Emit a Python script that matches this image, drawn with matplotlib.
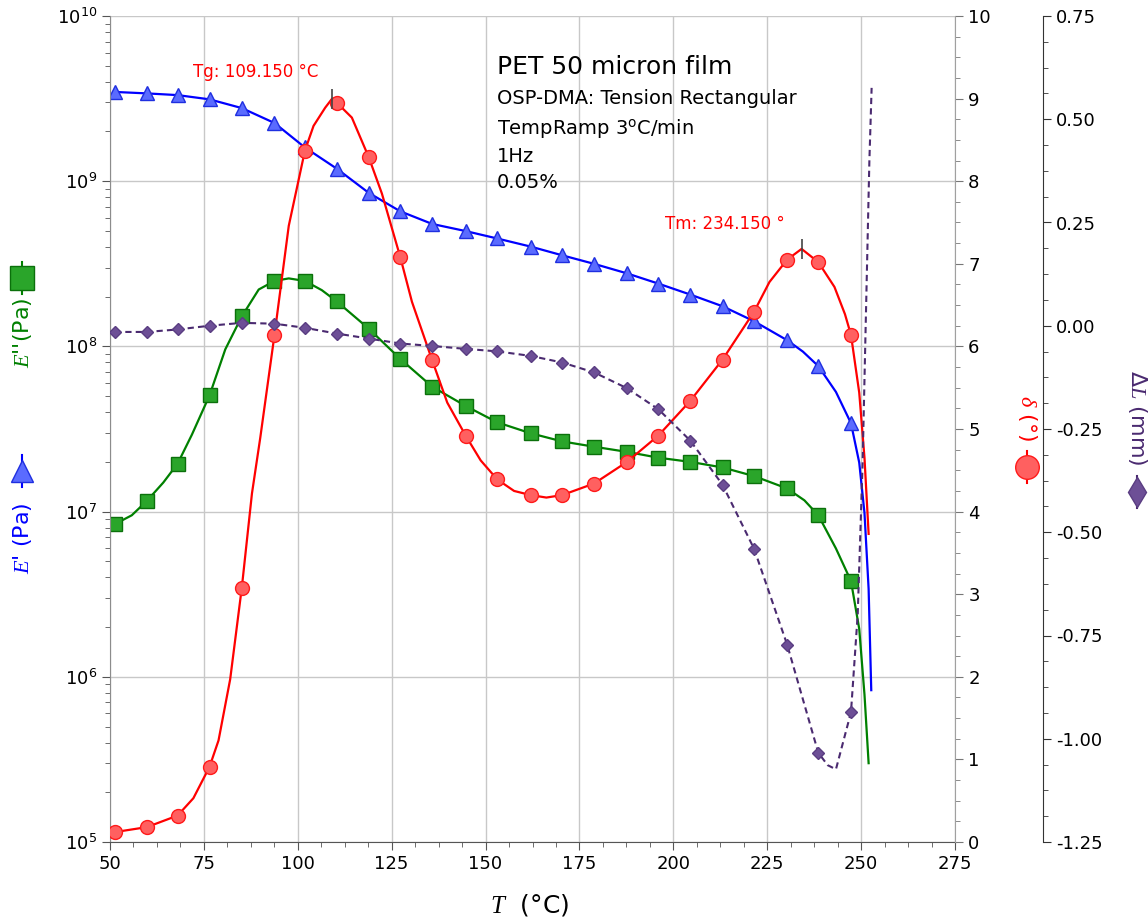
import numpy as np
import matplotlib.pyplot as plt
from matplotlib.ticker import MultipleLocator, LogLocator, FuncFormatter, FormatStrFormatter, NullFormatter
from matplotlib.lines import Line2D

plt.rcParams['font.family'] = 'DejaVu Sans'
plt.rcParams['mathtext.fontset'] = 'custom'
plt.rcParams['mathtext.it'] = 'Liberation Serif:italic'
plt.rcParams['mathtext.rm'] = 'DejaVu Sans'
plt.rcParams['axes.unicode_minus'] = False

# temperatures where markers sit
T_mk = [51.3, 59.8, 68.0, 76.5, 85.1, 93.8, 101.9, 110.4, 118.9, 127.3, 135.8, 144.7,
        153.1, 162.0, 170.4, 178.9, 187.6, 196.0, 204.5, 213.1, 221.5, 230.3, 238.6, 247.3]

# E' (Pa)
T_e1 = [51.3, 59.8, 68.0, 76.5, 85.1, 93.8, 101.9, 110.4, 118.9, 127.3, 135.8, 144.7,
        153.1, 162.0, 170.4, 178.9, 187.6, 196.0, 204.5, 213.1, 221.5, 230.3, 234.5,
        238.6, 243.3, 247.3, 249.5, 250.9, 252.0, 252.7]
E1 = [3.47e9, 3.40e9, 3.32e9, 3.13e9, 2.77e9, 2.25e9, 1.60e9, 1.19e9, 8.5e8, 6.57e8, 5.51e8, 4.99e8,
      4.50e8, 4.02e8, 3.56e8, 3.16e8, 2.77e8, 2.40e8, 2.06e8, 1.75e8, 1.42e8, 1.09e8, 9.3e7,
      7.6e7, 5.3e7, 3.43e7, 1.98e7, 9.8e6, 3.4e6, 8.3e5]

# E'' (Pa)
T_e2 = [51.3, 55.8, 59.8, 64.2, 68.0, 71.8, 76.5, 80.7, 85.1, 89.6, 93.8, 97.6, 101.9, 106.4,
        110.4, 118.9, 127.3, 135.8, 144.7, 153.1, 162.0, 170.4, 178.9, 187.6, 196.0, 204.5,
        213.1, 221.5, 230.3, 234.9, 238.6, 243.3, 247.3, 249.5, 250.9, 252.0]
E2 = [8.4e6, 9.5e6, 1.16e7, 1.50e7, 1.95e7, 2.92e7, 5.05e7, 9.6e7, 1.52e8, 2.21e8, 2.49e8, 2.58e8,
      2.49e8, 2.19e8, 1.87e8, 1.28e8, 8.4e7, 5.7e7, 4.36e7, 3.47e7, 2.98e7, 2.66e7, 2.47e7,
      2.30e7, 2.12e7, 2.00e7, 1.85e7, 1.64e7, 1.38e7, 1.17e7, 9.5e6, 5.98e6, 3.8e6, 1.95e6,
      7.8e5, 3.0e5]

# delta (deg)
T_d = [51.3, 59.8, 68.0, 72.2, 76.5, 78.9, 82.0, 85.1, 87.8, 90.0, 93.8, 97.6, 101.9, 104.2,
       107.3, 109.15, 110.4, 114.4, 118.9, 122.4, 127.3, 130.4, 135.8, 139.8, 144.7, 148.7,
       153.1, 157.6, 162.0, 166.2, 170.4, 178.9, 187.6, 196.0, 204.5, 213.1, 221.5, 225.6,
       230.3, 234.15, 238.6, 242.9, 245.7, 247.3, 249.5, 250.9, 252.0]
delta = [0.12, 0.18, 0.32, 0.53, 0.91, 1.23, 1.97, 3.08, 4.22, 4.89, 6.14, 7.46, 8.37, 8.67,
         8.89, 9.00, 8.95, 8.77, 8.29, 7.85, 7.08, 6.54, 5.83, 5.32, 4.92, 4.62,
         4.39, 4.25, 4.20, 4.17, 4.20, 4.34, 4.60, 4.92, 5.34, 5.84, 6.42, 6.78,
         7.05, 7.18, 7.02, 6.72, 6.39, 6.14, 5.44, 4.65, 3.73]

# Delta L (mm)
T_dl = [51.3, 59.8, 68.0, 76.5, 85.1, 93.8, 101.9, 110.4, 118.9, 127.3, 135.8, 144.7,
        153.1, 162.0, 170.4, 178.9, 187.6, 196.0, 204.5, 213.1, 221.5, 230.3, 238.6, 241.1,
        243.3, 247.3, 249.1, 250.4, 251.3, 252.2, 252.8]
dL = [-0.015, -0.015, -0.009, 0.000, 0.007, 0.005, -0.005, -0.019, -0.031, -0.043, -0.049, -0.056,
      -0.062, -0.073, -0.089, -0.113, -0.151, -0.202, -0.278, -0.385, -0.540, -0.772, -1.034, -1.064,
      -1.074, -0.936, -0.698, -0.332, 0.034, 0.399, 0.576]

Tg, Tg_val = 109.15, 9.00
Tm, Tm_val = 234.15, 7.18


def mk(T):
    return [i for i, t in enumerate(T) if t in T_mk]


def fx(px):
    return px / 1148


def fy(py):
    return 1 - py / 921


fig = plt.figure(figsize=(11.48, 9.21), dpi=100)
ax = fig.add_axes([fx(110), fy(842), 845 / 1148, 826 / 921])
ax.set_yscale('log')
ax.set_xlim(50, 275)
ax.set_ylim(1e5, 1e10)
ax.grid(True, which='major', color='#c8c8c8', lw=1)
ax.set_axisbelow(True)

ax.plot(T_e1, E1, color='#0000ff', lw=1.6, marker='^', ms=10, mfc='#5a6bff', mec='#1f2fe0',
        markevery=mk(T_e1))
ax.plot(T_e2, E2, color='#008000', lw=1.6, marker='s', ms=10, mfc='#2aa52a', mec='#0b700b',
        markevery=mk(T_e2))

ax.xaxis.set_major_locator(MultipleLocator(25))
ax.xaxis.set_minor_locator(MultipleLocator(6.25))
ax.yaxis.set_major_locator(LogLocator(base=10, numticks=10))
ax.yaxis.set_minor_locator(LogLocator(base=10, subs=np.arange(2, 10), numticks=10))
ax.yaxis.set_minor_formatter(NullFormatter())
ax.yaxis.set_major_formatter(FuncFormatter(lambda v, p: r'$\mathdefault{10^{%d}}$' % round(np.log10(v))))
ax.tick_params(which='both', direction='out', labelsize=13, colors='#555555', labelcolor='black')
ax.tick_params(which='major', length=6)
ax.tick_params(which='minor', length=3.5)
ax.spines['top'].set_visible(False)
ax.spines['right'].set_visible(False)
ax.spines['left'].set_color('#8c8c8c')
ax.spines['bottom'].set_color('#555555')

ax2 = ax.twinx()
ax2.set_ylim(0, 10)
ax2.plot(T_d, delta, color='#ff0000', lw=1.6, marker='o', ms=10, mfc='#ff6060', mec='#ff1a1a',
         markevery=mk(T_d))
ax2.plot([Tg, Tm], [Tg_val, Tm_val], ls='none', marker='|', ms=14, mew=1.2, color='#444444')
ax2.yaxis.set_major_locator(MultipleLocator(1))
ax2.yaxis.set_minor_locator(MultipleLocator(0.25))
ax2.tick_params(which='both', direction='out', labelsize=13, colors='#777777', labelcolor='black')
ax2.tick_params(which='major', length=6)
ax2.tick_params(which='minor', length=3.5)
for s in ['left', 'top', 'bottom']:
    ax2.spines[s].set_visible(False)
ax2.spines['right'].set_color('#a0a0a0')

ax3 = ax.twinx()
ax3.spines['right'].set_position(('axes', 1.104))
ax3.set_ylim(-1.25, 0.75)
ax3.plot(T_dl, dL, color='#4a2a70', lw=1.5, ls=(0, (3, 2)), marker='D', ms=6, mfc='#6d4f96',
         mec='#5a3d82', markevery=mk(T_dl))
ax3.yaxis.set_major_locator(MultipleLocator(0.25))
ax3.yaxis.set_minor_locator(MultipleLocator(0.0625))
ax3.yaxis.set_major_formatter(FormatStrFormatter('%.2f'))
ax3.tick_params(which='both', direction='out', labelsize=13, colors='#333333', labelcolor='black')
ax3.tick_params(which='major', length=6)
ax3.tick_params(which='minor', length=3.5)
for s in ['left', 'top', 'bottom']:
    ax3.spines[s].set_visible(False)
ax3.spines['right'].set_color('#333333')

# axis labels
fig.text(fx(530), fy(905), r'$T$  (°C)', fontsize=18, ha='center', va='center')
fig.text(fx(22), fy(538), r"$E$' (Pa)", rotation=90, color='#0000ff', fontsize=16,
         ha='center', va='center')
fig.text(fx(22), fy(333), r"$E$''(Pa)", rotation=90, color='#008000', fontsize=16,
         ha='center', va='center')
fig.text(fx(1027), fy(418), r"$\delta$ (°)", rotation=270, color='#ff0000', fontsize=16,
         ha='center', va='center')
fig.text(fx(1137), fy(418), r"$\Delta L$ (mm)", rotation=270, color='#4a2a70', fontsize=16,
         ha='center', va='center')

# label icons
icons = [(22, 471, '^', 16, '#5a6bff', '#1f2fe0', '#0000ff'),
         (22, 278, 's', 17, '#2aa52a', '#0b700b', '#008000'),
         (1027, 467, 'o', 17, '#ff6060', '#ff1a1a', '#ff0000'),
         (1137, 492, 'd', 15, '#6d4f96', '#5a3d82', '#4a2a70')]
for px, py, m, s, fc, ec, lc in icons:
    fig.add_artist(Line2D([fx(px), fx(px)], [fy(py - 16), fy(py + 16)], transform=fig.transFigure,
                          color=lc, lw=1.5))
    fig.add_artist(Line2D([fx(px)], [fy(py)], transform=fig.transFigure, ls='none', marker=m,
                          ms=s, mfc=fc, mec=ec))

# info text
fig.text(fx(497), fy(67), 'PET 50 micron film', fontsize=18, va='center')
fig.text(fx(497), fy(99), 'OSP-DMA: Tension Rectangular', fontsize=14, va='center')
fig.text(fx(497), fy(128), r'TempRamp 3$^\mathrm{o}$C/min', fontsize=14, va='center')
fig.text(fx(497), fy(156), '1Hz', fontsize=14, va='center')
fig.text(fx(497), fy(183), '0.05%', fontsize=14, va='center')

fig.text(fx(193), fy(72), 'Tg: 109.150 °C', fontsize=12, color='#ff0000', va='center')
fig.text(fx(665), fy(224), 'Tm: 234.150 °', fontsize=12, color='#ff0000', va='center')

fig.savefig('out.png', dpi=100)
